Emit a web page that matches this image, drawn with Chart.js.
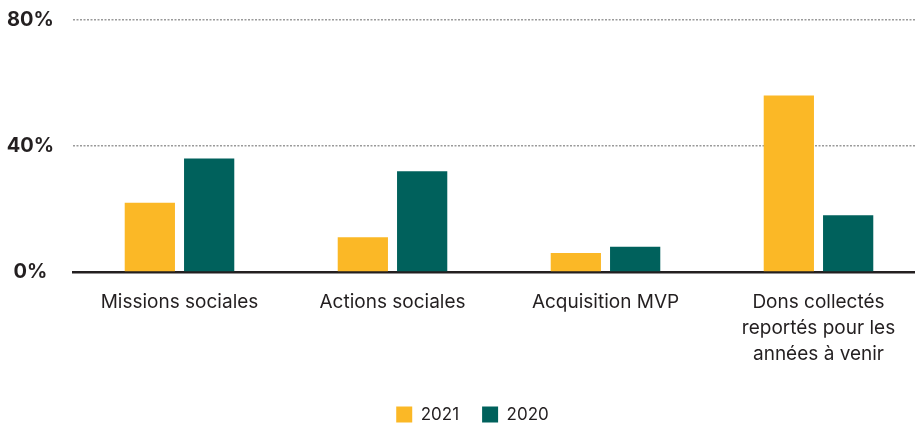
<!DOCTYPE html>
<html>
<head>
<meta charset="utf-8">
<script src="https://cdn.jsdelivr.net/npm/chart.js@4"></script>
<style>
  html, body { margin: 0; padding: 0; background: #fff; overflow: hidden; }
  #wrap { width: 925px; height: 444px; margin-top: -11px; }
</style>
</head>
<body>
<div id="wrap"><canvas id="chart"></canvas></div>
<script>
// categories, series and ticks
const categories = [
  "Missions sociales",
  "Actions sociales",
  "Acquisition MVP",
  ["Dons collectés", "reportés pour les", "années à venir"]
];
const values2021 = [22, 11, 6, 56];
const values2020 = [36, 32, 8, 18];
const yTicks = [0, 40, 80];

const TEXT = "#231f20";
const YELLOW = "#fbb826";
const GREEN = "#00615c";

Chart.defaults.font.family = "Inter, Roboto, 'Noto Sans', sans-serif";
Chart.defaults.color = TEXT;

// legend sits a little right of the canvas centre in the original
const legendNudge = {
  id: "legendNudge",
  afterLayout(chart) {
    chart.legend.left += 10;
    chart.legend.right += 10;
  }
};

new Chart(document.getElementById("chart"), {
  type: "bar",
  data: {
    labels: categories,
    datasets: [
      { label: "2021", data: values2021, backgroundColor: YELLOW },
      { label: "2020", data: values2020, backgroundColor: GREEN }
    ]
  },
  plugins: [legendNudge],
  options: {
    responsive: true,
    maintainAspectRatio: false,
    animation: false,
    datasets: { bar: { categoryPercentage: 0.557, barPercentage: 0.847 } },
    layout: { padding: 0 },
    plugins: {
      tooltip: { enabled: false },
      legend: {
        position: "bottom",
        labels: {
          boxWidth: 16,
          boxHeight: 16,
          padding: 23,
          color: TEXT,
          font: { size: 17 }
        }
      }
    },
    scales: {
      x: {
        grid: { display: false, drawTicks: false },
        border: { display: true, color: TEXT, width: 2.5 },
        afterFit: s => { s.height -= 1; },
        ticks: { padding: 17, color: TEXT, font: { size: 19, lineHeight: 1.37 }, maxRotation: 0 }
      },
      y: {
        min: 0,
        max: 80,
        afterBuildTicks: s => { s.ticks = yTicks.map(v => ({ value: v })); },
        afterFit: s => { s.width = 73; },
        grid: {
          drawTicks: false,
          lineWidth: 1.5,
          color: ctx => ctx.tick && ctx.tick.value === 0 ? "rgba(0,0,0,0)" : "#9a9a9a"
        },
        border: { display: false, dash: [2, 1.5] },
        ticks: {
          padding: 19,
          crossAlign: "center",
          color: TEXT,
          font: { size: 20, weight: "bold" },
          callback: v => v + "%"
        }
      }
    }
  }
});
</script>
</body>
</html>
